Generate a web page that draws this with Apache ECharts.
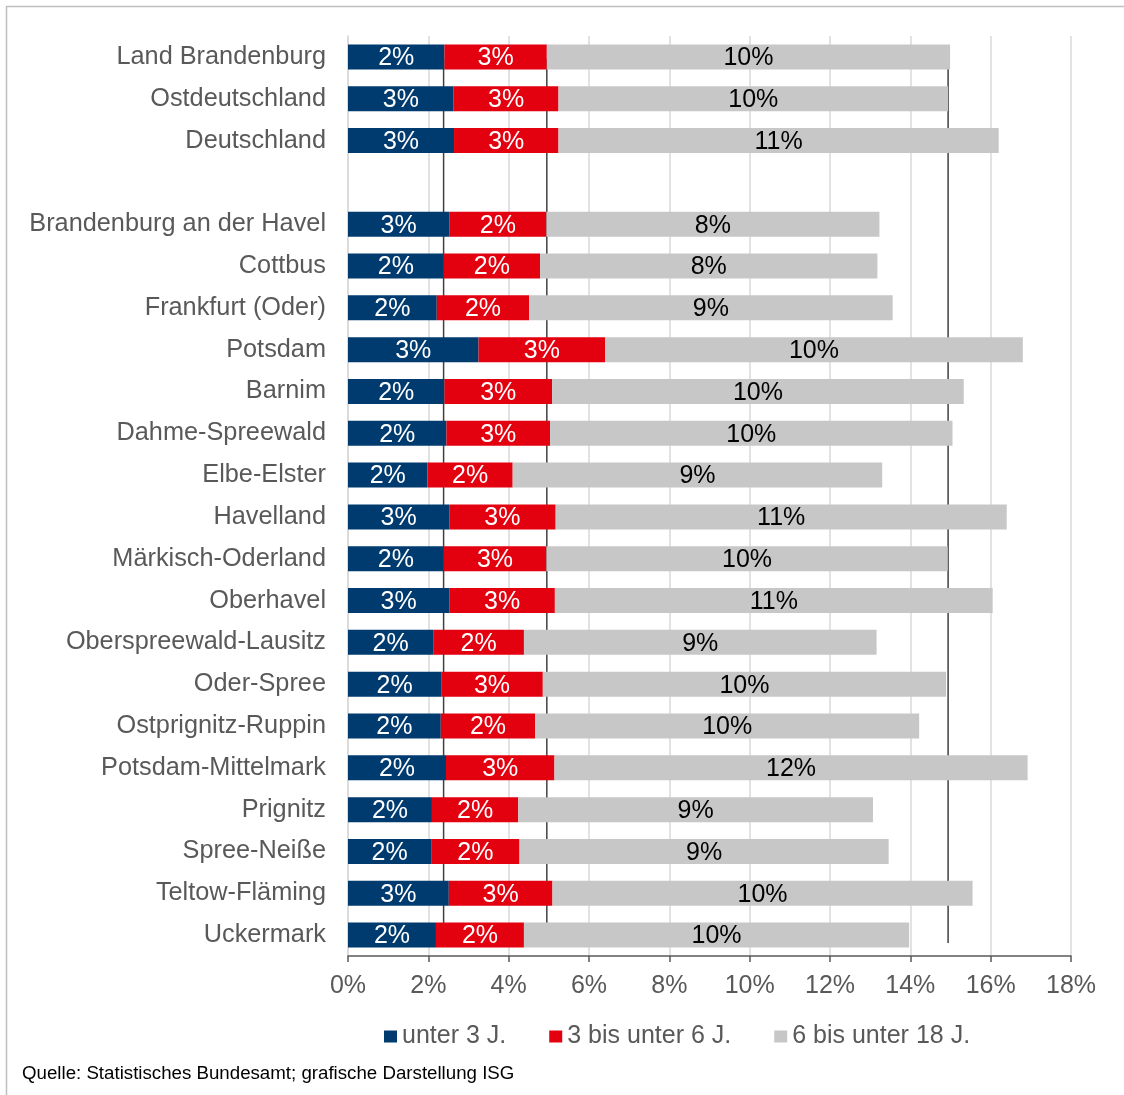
<!DOCTYPE html>
<html lang="de">
<head>
<meta charset="utf-8">
<title>Altersstruktur der Kinder und Jugendlichen</title>
<script src="https://cdn.jsdelivr.net/npm/echarts@6/dist/echarts.min.js"></script>
<style>
  html, body { margin: 0; padding: 0; background: #ffffff; }
  #chart { width: 1124px; height: 1095px; }
</style>
</head>
<body>
<div id="chart"></div>
<script>
// Regionen (leere Zeile trennt die Vergleichswerte von den Kreisen)
const categories = [
  "Land Brandenburg", "Ostdeutschland", "Deutschland", "",
  "Brandenburg an der Havel", "Cottbus", "Frankfurt (Oder)", "Potsdam",
  "Barnim", "Dahme-Spreewald", "Elbe-Elster", "Havelland",
  "Märkisch-Oderland", "Oberhavel", "Oberspreewald-Lausitz", "Oder-Spree",
  "Ostprignitz-Ruppin", "Potsdam-Mittelmark", "Prignitz", "Spree-Neiße",
  "Teltow-Fläming", "Uckermark"
];

// Anteile an der Bevölkerung in Prozent
const under3 = [2.40, 2.63, 2.64, '-', 2.52, 2.38, 2.21, 3.25, 2.40, 2.45, 1.98,
                2.52, 2.38, 2.52, 2.12, 2.32, 2.31, 2.44, 2.09, 2.07, 2.51, 2.19];
const age3to6 = [2.55, 2.61, 2.60, '-', 2.42, 2.40, 2.30, 3.15, 2.68, 2.58, 2.12,
                 2.65, 2.56, 2.63, 2.26, 2.53, 2.35, 2.70, 2.15, 2.20, 2.58, 2.19];
const age6to18 = [10.04, 9.70, 10.96, '-', 8.29, 8.40, 9.05, 10.40, 10.25, 10.02, 9.20,
                  11.23, 9.99, 10.90, 8.78, 10.04, 9.56, 11.78, 8.83, 9.19, 10.46, 9.59];

// Kumulierte Werte des Landes Brandenburg als senkrechte Vergleichslinien
const referenceLines = [2.38, 4.95, 14.94];

// Achsenbeschriftung
const xTicks = { min: 0, max: 18, interval: 2 };
const seriesNames = ["unter 3 J.", "3 bis unter 6 J.", "6 bis unter 18 J."];

const FONT = "'Liberation Sans', Arial, sans-serif";
const pct = p => Math.round(p.value) + '%';

function barSeries(name, data, color, labelColor) {
  return {
    name: name,
    type: 'bar',
    stack: 'total',
    data: data,
    barWidth: 25,
    z: 3,
    itemStyle: { color: color },
    label: {
      show: true,
      position: 'inside',
      offset: [0, 1.5],
      formatter: pct,
      color: labelColor,
      fontFamily: FONT,
      fontSize: 25
    },
    emphasis: { disabled: true }
  };
}

const lineSeries = referenceLines.map(v => ({
  type: 'line',
  xAxisIndex: 0,
  yAxisIndex: 1,
  data: [[v, 0.014], [v, 0.975]],
  symbol: 'none',
  silent: true,
  z: 1,
  lineStyle: { color: '#404040', width: 1.5 }
}));

const chart = echarts.init(document.getElementById('chart'), null, { renderer: 'canvas' });

chart.setOption({
  animation: false,
  backgroundColor: '#ffffff',
  textStyle: { fontFamily: FONT },
  grid: { left: 348, right: 53, top: 36, bottom: 139, containLabel: false },
  legend: {
    data: seriesNames,
    left: 379,
    top: 1019,
    icon: 'rect',
    itemWidth: 13,
    itemHeight: 12,
    itemGap: 43,
    textStyle: { fontFamily: FONT, fontSize: 25, color: '#595959' },
    selectedMode: false
  },
  xAxis: {
    type: 'value',
    min: xTicks.min,
    max: xTicks.max,
    interval: xTicks.interval,
    axisLine: { show: true, lineStyle: { color: '#595959', width: 1.5 } },
    axisTick: { show: true, length: 6, lineStyle: { color: '#595959', width: 1.5 } },
    axisLabel: {
      formatter: '{value}%',
      fontFamily: FONT,
      fontSize: 25,
      color: '#595959',
      margin: 18
    },
    splitLine: { show: true, lineStyle: { color: '#d9d9d9', width: 1.5 } }
  },
  yAxis: [
    {
      type: 'category',
      data: categories,
      inverse: true,
      axisLine: { show: true, lineStyle: { color: '#d9d9d9', width: 1.5 } },
      axisTick: { show: false },
      axisLabel: {
        fontFamily: FONT,
        fontSize: 25.3,
        color: '#595959',
        margin: 22,
        padding: [3, 0, 0, 0]
      },
      splitLine: { show: false }
    },
    {
      type: 'value',
      min: 0,
      max: 1,
      show: false,
      splitLine: { show: false }
    }
  ],
  series: [
    ...lineSeries,
    barSeries(seriesNames[0], under3, '#003b6f', '#ffffff'),
    barSeries(seriesNames[1], age3to6, '#e3000f', '#ffffff'),
    barSeries(seriesNames[2], age6to18, '#c6c7c6', '#000000')
  ],
  graphic: [
    {
      type: 'rect',
      silent: true,
      shape: { x: 6.5, y: 6.5, width: 1300, height: 1300 },
      style: { fill: 'none', stroke: '#bfbfbf', lineWidth: 1.5 }
    },
    {
      type: 'text',
      left: 22,
      top: 1064,
      silent: true,
      style: {
        text: 'Quelle: Statistisches Bundesamt; grafische Darstellung ISG',
        font: '18.7px ' + FONT,
        fill: '#000000'
      }
    }
  ]
});
</script>
</body>
</html>
